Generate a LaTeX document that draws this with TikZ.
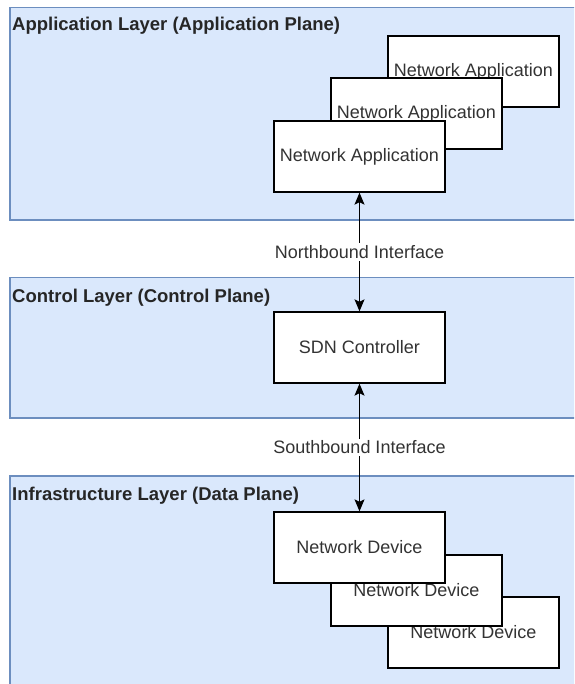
\documentclass[tikz,border=0pt]{standalone}
\usepackage{fontspec}
\setmainfont{Liberation Sans}
\usetikzlibrary{arrows.meta}
\definecolor{layerfill}{HTML}{DAE8FC}
\definecolor{layerline}{HTML}{6C8EBF}
\definecolor{boxtext}{HTML}{333333}
\tikzset{
  layer/.style={draw=layerline, fill=layerfill, line width=1.3pt},
  layertitle/.style={anchor=west, inner sep=0pt, font=\fontsize{18.5}{20}\selectfont\bfseries, text=black!85},
  unit/.style={draw=black, fill=white, line width=1.3pt, minimum width=171pt, minimum height=71pt, inner sep=0pt, font=\fontsize{18}{20}\selectfont, text=boxtext},
  tip/.tip={Stealth[length=12pt,width=10pt,inset=2.5pt]},
  link/.style={line width=1.2pt, tip-tip},
  linklabel/.style={fill=white, inner sep=2pt, font=\fontsize{18}{20}\selectfont, text=boxtext}
}
\begin{document}
\begin{tikzpicture}[x=1pt,y=-1pt]
\useasboundingbox (0,0) rectangle (574,684);
\clip (0,0) rectangle (574,684);
\fill[white] (0,0) rectangle (574,684);

% layer bands
\draw[layer] (10,7.5) rectangle (580,220);
\draw[layer] (10,277.5) rectangle (580,418);
\draw[layer] (10,476) rectangle (580,700);

\node[layertitle] (tapp) at (12,26) {Application Layer (Application Plane)};
\node[layertitle] (tctl) at (12,298) {Control Layer (Control Plane)};
\node[layertitle] (tinf) at (12,496) {Infrastructure Layer (Data Plane)};

% application stack
\node[unit] (app3) at (473.5,71.5) {Network Application};
\node[unit] (app2) at (416.5,113.5) {Network Application};
\node[unit] (app1) at (359.5,156.5) {Network Application};

% controller
\node[unit] (ctl) at (359.5,347.5) {SDN Controller};

% device stack
\node[unit] (dev3) at (473.5,632.5) {Network Device};
\node[unit] (dev2) at (416.5,590.5) {Network Device};
\node[unit] (dev1) at (359.5,547.5) {Network Device};

% interfaces
\draw[link] (app1.south) -- (ctl.north) node[linklabel, midway] (nb) {Northbound Interface};
\draw[link] (ctl.south) -- (dev1.north) node[linklabel, midway] (sb) {Southbound Interface};
\end{tikzpicture}
\end{document}
